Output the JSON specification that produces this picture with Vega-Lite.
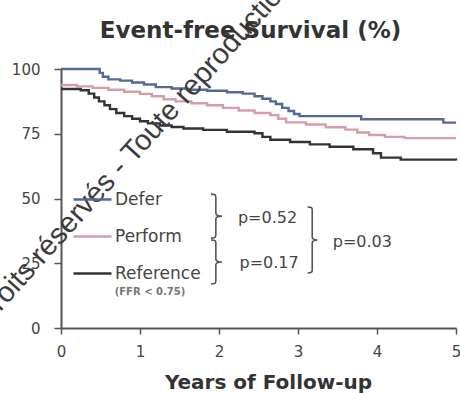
{
  "$schema": "https://vega.github.io/schema/vega-lite/v6.json",
  "autosize": "none",
  "width": 395,
  "height": 259,
  "padding": {"left": 61, "top": 69, "right": 4, "bottom": 65},
  "background": "white",
  "title": {
    "text": "Event-free Survival (%)",
    "frame": "group",
    "font": "DejaVu Sans",
    "fontSize": 23,
    "fontWeight": "bold",
    "color": "#333333",
    "anchor": "middle",
    "baseline": "alphabetic",
    "offset": -91,
    "dx": -8
  },
  "config": {
    "view": {"stroke": null},
    "axis": {
      "grid": false,
      "domainColor": "#555555",
      "domainWidth": 2,
      "tickColor": "#555555",
      "tickWidth": 1.5,
      "tickSize": 6,
      "labelFont": "DejaVu Sans",
      "labelFontSize": 15,
      "labelColor": "#444444",
      "titleFont": "DejaVu Sans",
      "titleColor": "#333333"
    }
  },
  "datasets": {
    "survival": [
      {"group": "Defer", "year": 0, "pct": 100},
      {"group": "Defer", "year": 0.49, "pct": 98.5},
      {"group": "Defer", "year": 0.53, "pct": 97},
      {"group": "Defer", "year": 0.6, "pct": 96},
      {"group": "Defer", "year": 0.75, "pct": 95.5},
      {"group": "Defer", "year": 0.9, "pct": 94.8},
      {"group": "Defer", "year": 1.05, "pct": 94},
      {"group": "Defer", "year": 1.2, "pct": 93},
      {"group": "Defer", "year": 1.4, "pct": 92.5},
      {"group": "Defer", "year": 1.6, "pct": 92},
      {"group": "Defer", "year": 1.85, "pct": 91.6},
      {"group": "Defer", "year": 2.1, "pct": 91},
      {"group": "Defer", "year": 2.3, "pct": 90.5},
      {"group": "Defer", "year": 2.45, "pct": 89.5},
      {"group": "Defer", "year": 2.55, "pct": 88.5},
      {"group": "Defer", "year": 2.65, "pct": 87.5},
      {"group": "Defer", "year": 2.72, "pct": 86.5},
      {"group": "Defer", "year": 2.8, "pct": 85},
      {"group": "Defer", "year": 2.88, "pct": 83.8},
      {"group": "Defer", "year": 2.95, "pct": 82.6},
      {"group": "Defer", "year": 3.02, "pct": 81.8},
      {"group": "Defer", "year": 3.8, "pct": 80.6},
      {"group": "Defer", "year": 4.84, "pct": 79.3},
      {"group": "Defer", "year": 5, "pct": 79.3},
      {"group": "Perform", "year": 0, "pct": 93.8},
      {"group": "Perform", "year": 0.2, "pct": 93.3},
      {"group": "Perform", "year": 0.4, "pct": 92.7},
      {"group": "Perform", "year": 0.6, "pct": 92},
      {"group": "Perform", "year": 0.8, "pct": 91.2},
      {"group": "Perform", "year": 1.0, "pct": 90.4},
      {"group": "Perform", "year": 1.15, "pct": 89.5},
      {"group": "Perform", "year": 1.3, "pct": 88.3},
      {"group": "Perform", "year": 1.45, "pct": 87.5},
      {"group": "Perform", "year": 1.65, "pct": 86.8},
      {"group": "Perform", "year": 1.85, "pct": 86},
      {"group": "Perform", "year": 2.05, "pct": 85},
      {"group": "Perform", "year": 2.25, "pct": 84},
      {"group": "Perform", "year": 2.45, "pct": 83},
      {"group": "Perform", "year": 2.65, "pct": 82.2},
      {"group": "Perform", "year": 2.75, "pct": 80.8},
      {"group": "Perform", "year": 2.85, "pct": 79.4},
      {"group": "Perform", "year": 3.1, "pct": 78.6},
      {"group": "Perform", "year": 3.35, "pct": 77.5},
      {"group": "Perform", "year": 3.6, "pct": 76.6},
      {"group": "Perform", "year": 3.75, "pct": 75.5},
      {"group": "Perform", "year": 3.9, "pct": 74.5},
      {"group": "Perform", "year": 4.1, "pct": 73.8},
      {"group": "Perform", "year": 4.35, "pct": 73.3},
      {"group": "Perform", "year": 5, "pct": 73.3},
      {"group": "Reference", "year": 0, "pct": 92.3},
      {"group": "Reference", "year": 0.25, "pct": 91.8},
      {"group": "Reference", "year": 0.35, "pct": 90.5},
      {"group": "Reference", "year": 0.42, "pct": 89},
      {"group": "Reference", "year": 0.48, "pct": 87.5},
      {"group": "Reference", "year": 0.55, "pct": 86},
      {"group": "Reference", "year": 0.62, "pct": 84.5},
      {"group": "Reference", "year": 0.7, "pct": 83},
      {"group": "Reference", "year": 0.8, "pct": 81.8},
      {"group": "Reference", "year": 0.9, "pct": 80.8},
      {"group": "Reference", "year": 1.0, "pct": 79.8},
      {"group": "Reference", "year": 1.1, "pct": 79},
      {"group": "Reference", "year": 1.25, "pct": 78.2},
      {"group": "Reference", "year": 1.4, "pct": 77.6},
      {"group": "Reference", "year": 1.55, "pct": 77},
      {"group": "Reference", "year": 1.8, "pct": 76.5},
      {"group": "Reference", "year": 2.1, "pct": 75.8},
      {"group": "Reference", "year": 2.45, "pct": 75.2},
      {"group": "Reference", "year": 2.55, "pct": 73.8},
      {"group": "Reference", "year": 2.65, "pct": 72.7},
      {"group": "Reference", "year": 2.9, "pct": 71.8},
      {"group": "Reference", "year": 3.15, "pct": 70.9},
      {"group": "Reference", "year": 3.4, "pct": 70},
      {"group": "Reference", "year": 3.7, "pct": 69},
      {"group": "Reference", "year": 3.95, "pct": 67.5},
      {"group": "Reference", "year": 4.05, "pct": 65.8},
      {"group": "Reference", "year": 4.3, "pct": 65},
      {"group": "Reference", "year": 5, "pct": 64.7}
    ],
    "pvalues": [
      {"label": "p=0.52", "year": 2.24, "pct": 42.5},
      {"label": "p=0.17", "year": 2.26, "pct": 25.1},
      {"label": "p=0.03", "year": 3.44, "pct": 33.2}
    ],
    "pairBraces": [
      {"pair": "Defer vs Perform", "year": 1.96, "pct": 43.2},
      {"pair": "Perform vs Reference", "year": 1.96, "pct": 25.5}
    ],
    "overallBrace": [
      {"pair": "Defer vs Reference", "year": 3.18, "pct": 34}
    ],
    "notes": [
      {"label": "(FFR < 0.75)", "year": 0.68, "pct": 13.9}
    ],
    "stamp": [
      {"label": "Droits réservés - Toute reproduction", "year": 0.92, "pct": 68.5}
    ]
  },
  "encoding": {
    "x": {
      "field": "year",
      "type": "quantitative",
      "scale": {"domain": [0, 5], "nice": false, "zero": false},
      "axis": {
        "values": [0, 1, 2, 3, 4, 5],
        "title": "Years of Follow-up",
        "titleFontSize": 20,
        "titleFontWeight": "bold",
        "titleBaseline": "alphabetic",
        "titleY": 60,
        "titleX": 207,
        "labelBaseline": "alphabetic",
        "labelPadding": 22,
        "labelFlush": false
      }
    },
    "y": {
      "field": "pct",
      "type": "quantitative",
      "scale": {"domain": [0, 100], "nice": false},
      "axis": {
        "values": [0, 25, 50, 75, 100],
        "title": null,
        "tickSize": 7,
        "labelPadding": 14
      }
    }
  },
  "layer": [
    {
      "data": {"name": "survival"},
      "mark": {"type": "line", "interpolate": "step-after", "strokeWidth": 2.4},
      "encoding": {
        "color": {
          "field": "group",
          "type": "nominal",
          "scale": {
            "domain": ["Defer", "Perform", "Reference"],
            "range": ["#55689a", "#d69da6", "#333333"]
          },
          "legend": {
            "orient": "none",
            "legendX": 11,
            "legendY": 110,
            "title": null,
            "padding": 0,
            "symbolType": "stroke",
            "symbolSize": 1444,
            "symbolStrokeWidth": 2.4,
            "labelFont": "DejaVu Sans",
            "labelFontSize": 17,
            "labelColor": "#444444",
            "labelOffset": 2,
            "rowPadding": 8
          }
        }
      }
    },
    {
      "data": {"name": "pvalues"},
      "mark": {"type": "text", "align": "left", "baseline": "middle", "font": "DejaVu Sans", "fontSize": 16, "color": "#444444"},
      "encoding": {"text": {"field": "label"}}
    },
    {
      "data": {"name": "notes"},
      "mark": {"type": "text", "align": "left", "baseline": "middle", "font": "DejaVu Sans", "fontSize": 10, "fontWeight": "bold", "color": "#777777"},
      "encoding": {"text": {"field": "label"}}
    },
    {
      "data": {"name": "pairBraces"},
      "mark": {
        "type": "point",
        "shape": "M-0.22,-1 C-0.02,-1 0,-0.96 0,-0.85 L0,-0.14 C0,-0.04 0.1,0 0.28,0 C0.1,0 0,0.04 0,0.14 L0,0.85 C0,0.96 -0.02,1 -0.22,1",
        "size": 1936,
        "filled": false,
        "opacity": 1,
        "stroke": "#555555",
        "strokeWidth": 1.6
      }
    },
    {
      "data": {"name": "overallBrace"},
      "mark": {
        "type": "point",
        "shape": "M-0.14,-1 C-0.01,-1 0,-0.97 0,-0.9 L0,-0.09 C0,-0.03 0.06,0 0.16,0 C0.06,0 0,0.03 0,0.09 L0,0.9 C0,0.97 -0.01,1 -0.14,1",
        "size": 4356,
        "filled": false,
        "opacity": 1,
        "stroke": "#555555",
        "strokeWidth": 1.6
      }
    },
    {
      "data": {"name": "stamp"},
      "mark": {"type": "text", "align": "center", "baseline": "middle", "angle": -48, "font": "Liberation Sans", "fontSize": 29, "color": "#3c3c3c"},
      "encoding": {"text": {"field": "label"}}
    }
  ]
}
